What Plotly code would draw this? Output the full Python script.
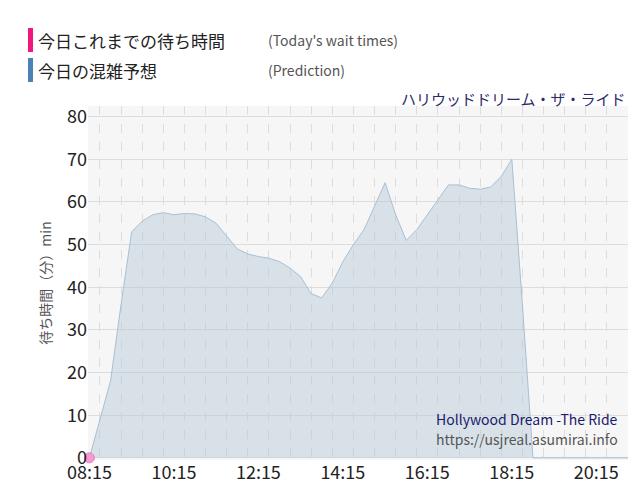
import plotly.graph_objects as go
import pandas as pd

times = pd.date_range("2024-01-01 08:15", "2024-01-01 21:00", freq="15min")
pred = [0, 9, 18, 36, 53, 55.5, 57, 57.5, 57, 57.3, 57.2, 56.5, 55, 52, 49, 47.8, 47.2, 46.8, 46,
        44.5, 42.5, 38.5, 37.5, 41, 46, 50, 53.5, 59, 64.5, 57, 51, 53.5, 57, 60.5, 64, 64, 63.2,
        63, 63.5, 66, 70, 36, 0, 0, 0, 0, 0, 0, 0, 0, 0, 0]
pred = pred[:len(times)] + [0] * (len(times) - len(pred))
today_t = ["2024-01-01 08:15"]
today_v = [0]

fig = go.Figure()
fig.add_trace(go.Scatter(x=times, y=pred, mode="lines", fill="tozeroy",
                         line=dict(color="#a9bfd3", width=1), fillcolor="rgba(180,200,215,0.45)"))
fig.add_trace(go.Scatter(x=pd.to_datetime(today_t), y=today_v, mode="markers",
                         marker=dict(color="#f59ad0", size=10, line=dict(color="#f080c0", width=1)),
                         cliponaxis=False))

fig.update_layout(
    width=640, height=500, showlegend=False,
    margin=dict(l=80, r=20, t=98, b=48),
    paper_bgcolor="white", plot_bgcolor="#f6f6f6",
    font=dict(family="Noto Sans CJK JP, DejaVu Sans", color="#333"),
    xaxis=dict(type="date", range=["2024-01-01 08:13", "2024-01-01 21:00"],
               tick0="2024-01-01 08:15", dtick=7200000, tickformat="%H:%M",
               tickfont=dict(size=18, color="#222"), showgrid=False, zeroline=False,
               minor=dict(dtick=1800000, showgrid=True, gridcolor="#dddddd", griddash="dash"),
               ticks="", showline=False),
    yaxis=dict(range=[-0.5, 82.5], tick0=0, dtick=10, tickfont=dict(size=18, color="#222"),
               gridcolor="#dcdcdc", zeroline=False,
               title=dict(text="待ち時間（分）min", font=dict(size=14, color="#555"), standoff=12)),
)
W, H = 540, 354
def px(x): return (x - 80) / W
def py(y): return (500 - 48 - y) / H
fig.update_layout(shapes=[
    dict(type="rect", xref="paper", yref="paper", x0=px(20), x1=px(25), y0=py(44), y1=py(20), fillcolor="#f0187c", line_width=0),
    dict(type="rect", xref="paper", yref="paper", x0=px(20), x1=px(25), y0=py(74), y1=py(50), fillcolor="#4a82b4", line_width=0),
])
anns = [
    dict(x=px(28), y=py(32), text="今日これまでの待ち時間", font=dict(size=17, color="#222")),
    dict(x=px(28), y=py(62), text="今日の混雑予想", font=dict(size=17, color="#222")),
    dict(x=px(258), y=py(32), text="(Today's wait times)", font=dict(size=14, color="#555")),
    dict(x=px(258), y=py(62), text="(Prediction)", font=dict(size=14, color="#555")),
]
for a in anns:
    fig.add_annotation(xref="paper", yref="paper", xanchor="left", yanchor="middle", showarrow=False, **a)
fig.add_annotation(xref="paper", yref="paper", x=1, y=py(90), xanchor="right", yanchor="middle",
                   showarrow=False, text="ハリウッドドリーム・ザ・ライド", font=dict(size=15, color="#2a2a6a"))
fig.add_annotation(xref="paper", yref="paper", x=0.985, y=py(411), xanchor="right", yanchor="middle",
                   showarrow=False, text="Hollywood Dream -The Ride", font=dict(size=14, color="#1a1a6a"))
fig.add_annotation(xref="paper", yref="paper", x=0.985, y=py(431), xanchor="right", yanchor="middle",
                   showarrow=False, text="https://usjreal.asumirai.info", font=dict(size=14, color="#555"))
fig.write_html("out.html")
